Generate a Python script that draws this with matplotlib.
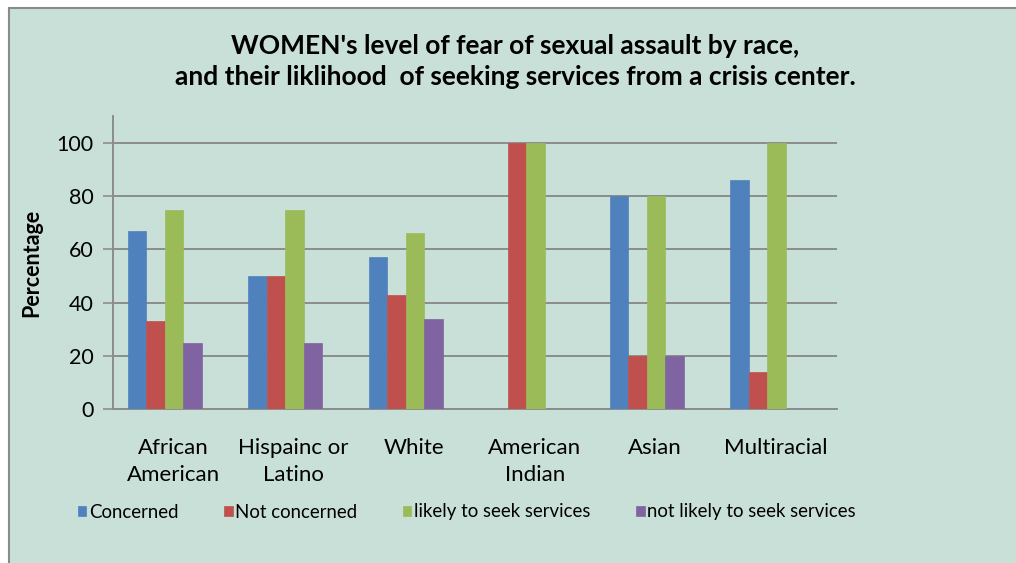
import matplotlib.pyplot as plt
from matplotlib.patches import Rectangle
import numpy as np

plt.rcParams['font.family'] = ['Lato', 'DejaVu Sans']

groups = ["African\nAmerican", "Hispainc or\nLatino", "White",
          "American\nIndian", "Asian", "Multiracial"]
concerned = [67, 50, 57, 0, 80, 86]
not_concerned = [33, 50, 43, 100, 20, 14]
likely = [75, 75, 66, 100, 80, 100]
not_likely = [25, 25, 34, 0, 20, 0]

series = [("Concerned", concerned, "#4F81BD"),
          ("Not concerned", not_concerned, "#C0504D"),
          ("likely to seek services", likely, "#9BBB59"),
          ("not likely to seek services", not_likely, "#8064A2")]

bg = "#C9E0D8"
grid_col = "#8C8C8C"

fig = plt.figure(figsize=(10.16, 5.63), dpi=100)
fig.patch.set_facecolor("white")
# chart area panel with border
fig.patches.append(Rectangle((9 / 1016, -0.02), 1.05, (563 - 8) / 563 + 0.02,
                             transform=fig.transFigure, facecolor=bg,
                             edgecolor="#8A8A8A", linewidth=1.5, zorder=-5))

ax = fig.add_axes([113 / 1016, 154 / 563, 724 / 1016, 292.6 / 563])
ax.set_facecolor(bg)
ax.set_zorder(2)

x = np.arange(len(groups))
w = 0.1535
for i, (name, vals, col) in enumerate(series):
    ax.bar(x + (i - 1.5) * w, vals, width=w, color=col, label=name,
           edgecolor=col, linewidth=0.5, zorder=3)

ax.set_xlim(-0.43, 5.58)
ax.set_ylim(0, 110)
ax.set_yticks([0, 20, 40, 60, 80, 100])
ax.yaxis.grid(True, color=grid_col, linewidth=1.4, zorder=0)
ax.set_axisbelow(True)
ax.set_xticks(x + 0.07)
ax.set_xticklabels(groups, fontsize=16, linespacing=1.45)
ax.tick_params(axis="x", length=0, pad=21)
ax.tick_params(axis="y", length=7, width=1.2, color=grid_col, labelsize=15.5, pad=7)
for s in ["top", "right"]:
    ax.spines[s].set_visible(False)
for s in ["left", "bottom"]:
    ax.spines[s].set_color(grid_col)
    ax.spines[s].set_linewidth(1.4)
ax.set_ylabel("Percentage", fontsize=15.5, fontweight="bold", labelpad=10)

fig.text(515 / 1016, 1 - 61 / 563,
         "WOMEN's level of fear of sexual assault by race,\n"
         "and their liklihood  of seeking services from a crisis center.",
         ha="center", va="center", fontsize=19, fontweight="bold",
         linespacing=1.35, zorder=5)

ax.legend(loc="center", bbox_to_anchor=(467 / 1016, 1 - 512 / 563),
          bbox_transform=fig.transFigure, ncol=4, frameon=False,
          fontsize=13.4, handlelength=0.45, handleheight=0.5,
          handletextpad=0.15, columnspacing=2.45)

fig.savefig("out.png", dpi=100, facecolor=fig.get_facecolor())
